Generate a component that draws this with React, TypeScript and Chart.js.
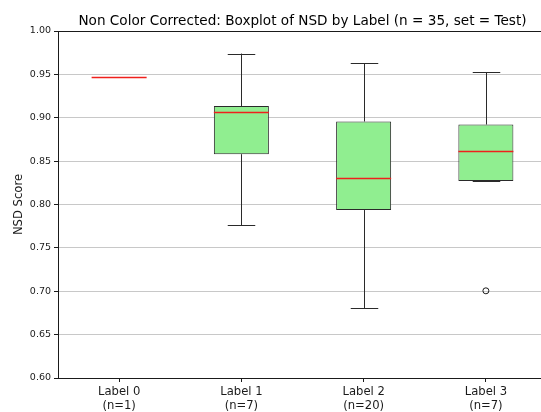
import React, { useEffect, useRef } from "react";
import { Chart, registerables } from "chart.js";

Chart.register(...registerables);

const categories = [["Label 0", "(n=1)"], ["Label 1", "(n=7)"], ["Label 2", "(n=20)"], ["Label 3", "(n=7)"]];
const whiskerLow = [0.9475, 0.7763, 0.6807, 0.827];
const q1 = [0.9475, 0.858, 0.7936, 0.827];
const median = [0.9475, 0.9066, 0.8311, 0.8622];
const q3 = [0.9475, 0.9135, 0.8957, 0.8922];
const whiskerHigh = [0.9475, 0.974, 0.963, 0.9522];
const outliers: (number | null)[] = [null, null, null, 0.7005];
const yTicks = [0.6, 0.65, 0.7, 0.75, 0.8, 0.85, 0.9, 0.95, 1.0];

const FONT = "DejaVu Sans";
const BOX_FRAC = 0.45;

const boxPlugin = {
  id: "boxElems",
  beforeDatasetsDraw(chart: any) {
    const { ctx, scales } = chart;
    const x = scales.x, y = scales.y;
    const catW = x.getPixelForValue(1) - x.getPixelForValue(0);
    const capW = catW * BOX_FRAC * 0.5;
    ctx.save();
    ctx.strokeStyle = "#2a2a2a";
    ctx.lineWidth = 1;
    for (let i = 0; i < categories.length; i++) {
      const cx = Math.round(x.getPixelForValue(i)) + 0.5;
      const segs = [
        [q3[i], whiskerHigh[i]],
        [q1[i], whiskerLow[i]],
      ];
      for (const [a, b] of segs) {
        if (a === b) continue;
        ctx.beginPath();
        ctx.moveTo(cx, y.getPixelForValue(a));
        ctx.lineTo(cx, y.getPixelForValue(b));
        ctx.stroke();
      }
      for (const v of [whiskerHigh[i], whiskerLow[i]]) {
        const py = Math.round(y.getPixelForValue(v)) + 0.5;
        ctx.beginPath();
        ctx.moveTo(cx - capW / 2, py);
        ctx.lineTo(cx + capW / 2, py);
        ctx.stroke();
      }
    }
    ctx.restore();
  },
  afterDatasetsDraw(chart: any) {
    const { ctx, scales, chartArea } = chart;
    const x = scales.x, y = scales.y;
    const catW = x.getPixelForValue(1) - x.getPixelForValue(0);
    const boxW = catW * BOX_FRAC;
    ctx.save();
    ctx.strokeStyle = "#f0201c";
    ctx.lineWidth = 1.3;
    for (let i = 0; i < categories.length; i++) {
      const cx = x.getPixelForValue(i);
      const py = Math.round(y.getPixelForValue(median[i])) + 0.5;
      ctx.beginPath();
      ctx.moveTo(cx - boxW / 2, py);
      ctx.lineTo(cx + boxW / 2, py);
      ctx.stroke();
    }
    // frame
    ctx.strokeStyle = "#1a1a1a";
    ctx.lineWidth = 1;
    ctx.strokeRect(
      Math.round(chartArea.left) + 0.5,
      Math.round(chartArea.top) + 0.5,
      Math.round(chartArea.right - chartArea.left),
      Math.round(chartArea.bottom - chartArea.top)
    );
    ctx.restore();
  },
};

export default function App() {
  const ref = useRef<HTMLCanvasElement>(null);
  useEffect(() => {
    if (!ref.current) return;
    const chart = new Chart(ref.current, {
      type: "bar",
      data: {
        labels: categories as any,
        datasets: [
          {
            type: "bar",
            data: q1.map((v, i) => [v, q3[i]]) as any,
            backgroundColor: "#90ee90",
            borderColor: "#2a2a2a",
            borderWidth: 1,
            borderSkipped: false,
            barPercentage: BOX_FRAC,
            categoryPercentage: 1,
          },
          {
            type: "line",
            data: outliers as any,
            showLine: false,
            pointStyle: "circle",
            pointRadius: 3,
            pointBorderWidth: 1,
            pointBorderColor: "#1a1a1a",
            pointBackgroundColor: "rgba(0,0,0,0)",
          } as any,
        ],
      },
      options: {
        responsive: false,
        animation: false,
        devicePixelRatio: 1,
        layout: { padding: { left: 6, right: 0, top: 0, bottom: 0 } },
        plugins: {
          legend: { display: false },
          tooltip: { enabled: false },
          title: {
            display: true,
            text: "Non Color Corrected: Boxplot of NSD by Label (n = 35, set = Test)",
            fullSize: false,
            color: "#000",
            font: { family: FONT, size: 13.6, weight: "normal" as any, lineHeight: 1.2 },
            padding: { top: 13, bottom: 1.7 },
          },
        },
        scales: {
          x: {
            type: "category",
            offset: true,
            grid: { drawOnChartArea: false, offset: false, tickLength: 4, tickColor: "#1a1a1a" },
            border: { display: true, color: "#1a1a1a" },
            ticks: {
              color: "#1a1a1a",
              padding: 3,
              maxRotation: 0,
              autoSkip: false,
              font: { family: FONT, size: 11.6, lineHeight: 1.2 },
            },
            afterFit(scale: any) {
              scale.height = 34;
            },
          },
          y: {
            type: "linear",
            min: 0.6,
            max: 1.0,
            afterBuildTicks(scale: any) {
              scale.ticks = yTicks.map((v) => ({ value: v }));
            },
            grid: { color: "#c8c8c8", tickLength: 4, tickColor: "#1a1a1a", lineWidth: 1 },
            border: { display: true, color: "#1a1a1a" },
            ticks: {
              color: "#1a1a1a",
              padding: 3,
              font: { family: FONT, size: 9.5 },
              callback: (v: any) => Number(v).toFixed(2),
            },
            title: {
              display: true,
              text: "NSD Score",
              color: "#1a1a1a",
              font: { family: FONT, size: 11.6, lineHeight: 1.2 },
              padding: { top: 6, bottom: 0 },
            },
            afterFit(scale: any) {
              scale.width = 52;
            },
          },
        },
      },
      plugins: [boxPlugin],
    });
    return () => chart.destroy();
  }, []);
  return (
    <div style={{ position: "fixed", left: 0, top: 0, width: 541, height: 412, overflow: "hidden", background: "#fff" }}>
      <canvas ref={ref} width={552} height={412} style={{ display: "block", width: 552, height: 412 }} />
    </div>
  );
}
